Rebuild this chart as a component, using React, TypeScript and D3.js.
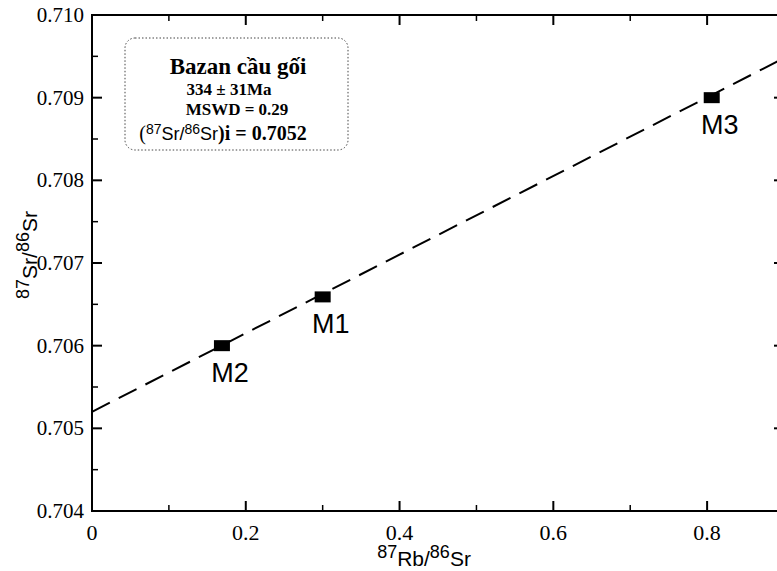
import React from 'react';
import * as d3 from 'd3';

const sampleNames = ['M2', 'M1', 'M3'];
const rbSrValues = [0.169, 0.3, 0.806];
const srSrValues = [0.70600, 0.70659, 0.70900];
const xTickValues = [0, 0.2, 0.4, 0.6, 0.8];
const xMinorValues = [0.1, 0.3, 0.5, 0.7, 0.9];
const yTickValues = [0.704, 0.705, 0.706, 0.707, 0.708, 0.709, 0.71];
const yMinorValues = [0.7045, 0.7055, 0.7065, 0.7075, 0.7085, 0.7095];
const isochronIntercept = 0.7052;
const isochronSlope = 0.004754;
const lineXs = [0, 0.9];
const legendLines = ['Bazan cầu gối', '334 ± 31Ma', 'MSWD = 0.29'];

const W = 777, H = 571;
const L = 92, R = 784, T = 15, B = 511;
const serif = '"Liberation Serif", "Times New Roman", serif';
const sans = '"Liberation Sans", Arial, sans-serif';

export default function App() {
  const x = d3.scaleLinear().domain([0, 0.9]).range([L, R]);
  const y = d3.scaleLinear().domain([0.704, 0.71]).range([B, T]);
  const line = d3.line<number>()
    .x(d => x(d))
    .y(d => y(isochronIntercept + isochronSlope * d));
  const MJ = 10, MN = 6;
  return (
    <svg width={W} height={H} style={{ position: 'fixed', left: 0, top: 0, background: '#fff' }}>
      <rect x={0} y={0} width={W} height={H} fill="#fff" />
      {/* frame */}
      <rect x={L} y={T} width={R - L} height={B - T} fill="none" stroke="#000" strokeWidth={2} />
      {/* ticks */}
      {xTickValues.map(v => (
        <g key={'xt' + v}>
          <line x1={x(v)} x2={x(v)} y1={B} y2={B - MJ} stroke="#000" strokeWidth={2} />
          <line x1={x(v)} x2={x(v)} y1={T} y2={T + MJ} stroke="#000" strokeWidth={2} />
          <text x={x(v)} y={540} textAnchor="middle" fontFamily={serif} fontSize={22}>{v === 0 ? '0' : d3.format('.1f')(v)}</text>
        </g>
      ))}
      {xMinorValues.map(v => (
        <g key={'xm' + v}>
          <line x1={x(v)} x2={x(v)} y1={B} y2={B - MN} stroke="#000" strokeWidth={1.5} />
          <line x1={x(v)} x2={x(v)} y1={T} y2={T + MN} stroke="#000" strokeWidth={1.5} />
        </g>
      ))}
      {yTickValues.map(v => (
        <g key={'yt' + v}>
          <line x1={L} x2={L + MJ} y1={y(v)} y2={y(v)} stroke="#000" strokeWidth={2} />
          <line x1={R} x2={R - MJ} y1={y(v)} y2={y(v)} stroke="#000" strokeWidth={2} />
          <text x={84} y={y(v) + 7} textAnchor="end" fontFamily={serif} fontSize={21}>{d3.format('.3f')(v)}</text>
        </g>
      ))}
      {yMinorValues.map(v => (
        <g key={'ym' + v}>
          <line x1={L} x2={L + MN} y1={y(v)} y2={y(v)} stroke="#000" strokeWidth={1.5} />
          <line x1={R} x2={R - MN} y1={y(v)} y2={y(v)} stroke="#000" strokeWidth={1.5} />
        </g>
      ))}
      {/* isochron */}
      <path d={line(lineXs) || ''} fill="none" stroke="#000" strokeWidth={2} strokeDasharray="20,10" />
      {/* points */}
      {sampleNames.map((n, i) => (
        <g key={n}>
          <rect x={x(rbSrValues[i]) - 8} y={y(srSrValues[i]) - 5.5} width={16} height={11} fill="#000" />
          <text x={x(rbSrValues[i]) + 8} y={y(srSrValues[i]) + 36} textAnchor="middle" fontFamily={sans} fontSize={27}>{n}</text>
        </g>
      ))}
      {/* legend */}
      <rect x={125} y={38} width={223} height={112} rx={10} fill="#fff" stroke="#444" strokeWidth={1} strokeDasharray="1.5,2" />
      <text x={238} y={74} textAnchor="middle" fontFamily={serif} fontWeight="bold" fontSize={23}>{legendLines[0]}</text>
      <text x={229} y={95} textAnchor="middle" fontFamily={serif} fontWeight="bold" fontSize={17}>{legendLines[1]}</text>
      <text x={237} y={115} textAnchor="middle" fontFamily={serif} fontWeight="bold" fontSize={17}>{legendLines[2]}</text>
      <text x={223} y={140} textAnchor="middle" fontSize={20} fontFamily={serif}>
        <tspan>(</tspan>
        <tspan fontFamily={sans} fontSize={14} dy={-6}>87</tspan>
        <tspan fontFamily={sans} fontSize={18} dy={6}>Sr/</tspan>
        <tspan fontFamily={sans} fontSize={14} dy={-6}>86</tspan>
        <tspan fontFamily={sans} fontSize={18} dy={6}>Sr</tspan>
        <tspan fontWeight="bold">)i = 0.7052</tspan>
      </text>
      {/* axis titles */}
      <text x={424} y={566} textAnchor="middle" fontFamily={sans} fontSize={21}>
        <tspan fontSize={18} dy={-8}>87</tspan>
        <tspan dy={8}>Rb/</tspan>
        <tspan fontSize={18} dy={-8}>86</tspan>
        <tspan dy={8}>Sr</tspan>
      </text>
      <text transform="translate(37,255) rotate(-90)" textAnchor="middle" fontFamily={sans} fontSize={21}>
        <tspan fontSize={18} dy={-8}>87</tspan>
        <tspan dy={8}>Sr/</tspan>
        <tspan fontSize={18} dy={-8}>86</tspan>
        <tspan dy={8}>Sr</tspan>
      </text>
    </svg>
  );
}
